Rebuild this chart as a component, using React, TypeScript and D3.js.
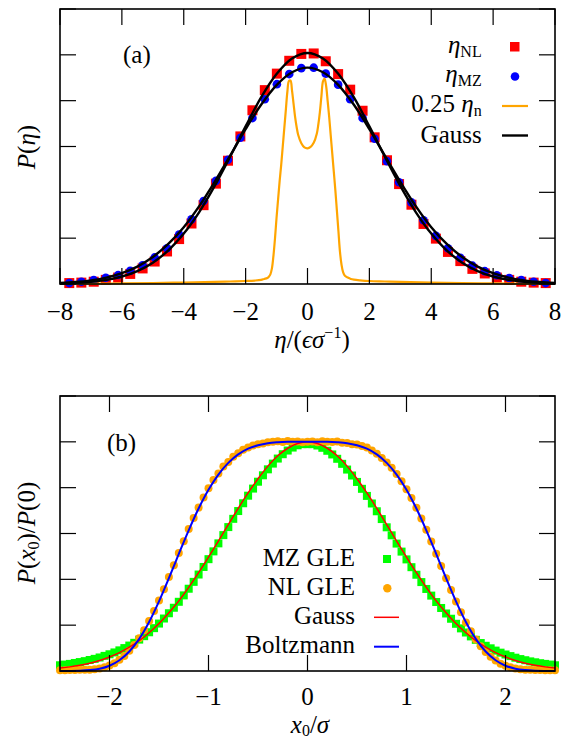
import React from "react";
import * as d3 from "d3";

// ---------------- Panel (a) data ----------------
const etaGrid = [-7.70, -7.31, -6.91, -6.52, -6.12, -5.73, -5.33, -4.94, -4.54, -4.15, -3.75, -3.36, -2.96, -2.57, -2.17, -1.78, -1.38, -0.99, -0.59, -0.20,
  0.20, 0.59, 0.99, 1.38, 1.78, 2.17, 2.57, 2.96, 3.36, 3.75, 4.15, 4.54, 4.94, 5.33, 5.73, 6.12, 6.52, 6.91, 7.31, 7.70];
const etaNL = [0.02, 0.03, 0.05, 0.09, 0.14, 0.22, 0.34, 0.49, 0.71, 0.98, 1.32, 1.72, 2.19, 2.69, 3.22, 3.79, 4.23, 4.59, 4.87, 5.02,
  5.03, 4.86, 4.58, 4.24, 3.78, 3.20, 2.70, 2.18, 1.73, 1.31, 0.99, 0.70, 0.50, 0.33, 0.23, 0.14, 0.09, 0.05, 0.03, 0.02];
const etaMZ = [0.02, 0.05, 0.085, 0.135, 0.195, 0.29, 0.41, 0.58, 0.78, 1.08, 1.41, 1.81, 2.25, 2.71, 3.19, 3.62, 4.03, 4.36, 4.58, 4.71,
  4.72, 4.59, 4.35, 4.03, 3.62, 3.17, 2.68, 2.22, 1.78, 1.39, 1.05, 0.78, 0.57, 0.40, 0.28, 0.19, 0.13, 0.085, 0.05, 0.02];

const gaussEta = [-8, -7.5, -7, -6.5, -6, -5.5, -5, -4.5, -4, -3.5, -3, -2.5, -2, -1.5, -1, -0.5, 0,
  0.5, 1, 1.5, 2, 2.5, 3, 3.5, 4, 4.5, 5, 5.5, 6, 6.5, 7, 7.5, 8];
const gaussNLFit = [0.011, 0.024, 0.047, 0.090, 0.163, 0.283, 0.466, 0.733, 1.10, 1.57, 2.14, 2.78, 3.44, 4.07, 4.58, 4.92, 5.04,
  4.92, 4.58, 4.07, 3.44, 2.78, 2.14, 1.57, 1.10, 0.733, 0.466, 0.283, 0.163, 0.090, 0.047, 0.024, 0.011];
const gaussMZFit = [0.023, 0.043, 0.080, 0.140, 0.235, 0.379, 0.588, 0.873, 1.24, 1.70, 2.23, 2.80, 3.38, 3.91, 4.34, 4.62, 4.72,
  4.62, 4.34, 3.91, 3.38, 2.80, 2.23, 1.70, 1.24, 0.873, 0.588, 0.379, 0.235, 0.140, 0.080, 0.043, 0.023];

const noiseEta = [-8, -7, -6, -5, -4, -3, -2.5, -2, -1.7, -1.5, -1.4, -1.3, -1.25, -1.2, -1.15, -1.1, -1.05, -1.0, -0.95, -0.9, -0.85, -0.8,
  -0.75, -0.7, -0.65, -0.6, -0.55, -0.5, -0.45, -0.4, -0.35, -0.3, -0.2, -0.1, 0,
  0.1, 0.2, 0.3, 0.35, 0.4, 0.45, 0.5, 0.55, 0.6, 0.65, 0.7, 0.75, 0.8, 0.85, 0.9, 0.95, 1.0, 1.05, 1.1, 1.15, 1.2, 1.25, 1.3,
  1.4, 1.5, 1.7, 2, 2.5, 3, 4, 5, 6, 7, 8];
const noiseQuarter = [0.003, 0.008, 0.012, 0.022, 0.032, 0.045, 0.055, 0.065, 0.075, 0.09, 0.11, 0.13, 0.16, 0.21, 0.34, 0.62, 1.0, 1.45, 1.85, 2.25, 2.6, 3.0,
  3.4, 3.8, 4.2, 4.43, 4.44, 4.22, 3.93, 3.64, 3.42, 3.25, 3.07, 2.98, 2.96,
  2.99, 3.08, 3.28, 3.48, 3.75, 4.1, 4.42, 4.48, 4.33, 4.0, 3.65, 3.25, 2.85, 2.45, 2.05, 1.6, 1.15, 0.7, 0.42, 0.26, 0.19, 0.16, 0.14,
  0.11, 0.095, 0.08, 0.065, 0.055, 0.045, 0.032, 0.022, 0.012, 0.008, 0.003];

const aXTicks = [-8, -6, -4, -2, 0, 2, 4, 6, 8];
const aYTicks = [0, 1, 2, 3, 4, 5, 6];

// ---------------- Panel (b) data ----------------
const x0Grid = [-2.5, -2.45, -2.4, -2.35, -2.3, -2.25, -2.2, -2.15, -2.1, -2.05,
  -2.0, -1.95, -1.9, -1.85, -1.8, -1.75, -1.7, -1.65, -1.6, -1.55,
  -1.5, -1.45, -1.4, -1.35, -1.3, -1.25, -1.2, -1.15, -1.1, -1.05,
  -1.0, -0.95, -0.9, -0.85, -0.8, -0.75, -0.7, -0.65, -0.6, -0.55,
  -0.5, -0.45, -0.4, -0.35, -0.3, -0.25, -0.2, -0.15, -0.1, -0.05, 0,
  0.05, 0.1, 0.15, 0.2, 0.25, 0.3, 0.35, 0.4, 0.45, 0.5,
  0.55, 0.6, 0.65, 0.7, 0.75, 0.8, 0.85, 0.9, 0.95, 1.0,
  1.05, 1.1, 1.15, 1.2, 1.25, 1.3, 1.35, 1.4, 1.45, 1.5,
  1.55, 1.6, 1.65, 1.7, 1.75, 1.8, 1.85, 1.9, 1.95, 2.0,
  2.05, 2.1, 2.15, 2.2, 2.25, 2.3, 2.35, 2.4, 2.45, 2.5];
const mzGle = [0.025, 0.028, 0.031, 0.035, 0.039, 0.043, 0.048, 0.053, 0.059, 0.066,
  0.073, 0.081, 0.090, 0.100, 0.111, 0.123, 0.137, 0.152, 0.169, 0.187,
  0.207, 0.229, 0.252, 0.276, 0.302, 0.330, 0.359, 0.389, 0.421, 0.454,
  0.488, 0.522, 0.557, 0.593, 0.628, 0.664, 0.698, 0.732, 0.765, 0.796,
  0.826, 0.854, 0.880, 0.905, 0.927, 0.946, 0.962, 0.975, 0.985, 0.99, 0.99,
  0.99, 0.984, 0.974, 0.961, 0.945, 0.926, 0.904, 0.879, 0.853, 0.825,
  0.795, 0.764, 0.731, 0.697, 0.663, 0.627, 0.592, 0.556, 0.521, 0.487,
  0.453, 0.420, 0.388, 0.358, 0.329, 0.301, 0.275, 0.251, 0.228, 0.206,
  0.186, 0.168, 0.151, 0.136, 0.122, 0.110, 0.099, 0.089, 0.080, 0.072,
  0.065, 0.058, 0.052, 0.047, 0.042, 0.038, 0.034, 0.031, 0.028, 0.025];
const nlGle = [0.003, 0.003, 0.004, 0.004, 0.005, 0.005, 0.006, 0.008, 0.011, 0.016,
  0.024, 0.034, 0.049, 0.066, 0.088, 0.113, 0.143, 0.178, 0.218, 0.262,
  0.308, 0.357, 0.410, 0.462, 0.515, 0.566, 0.620, 0.668, 0.713, 0.757,
  0.797, 0.833, 0.862, 0.892, 0.912, 0.935, 0.950, 0.965, 0.975, 0.984,
  0.990, 0.993, 0.998, 1.000, 1.003, 0.999, 1.004, 1.000, 1.002, 0.998, 1.000,
  1.002, 0.998, 1.003, 1.000, 0.999, 1.001, 0.996, 0.995, 0.990, 0.988,
  0.982, 0.975, 0.962, 0.948, 0.930, 0.910, 0.887, 0.860, 0.828, 0.793,
  0.755, 0.712, 0.665, 0.616, 0.565, 0.512, 0.458, 0.405, 0.353, 0.303,
  0.256, 0.212, 0.173, 0.138, 0.108, 0.083, 0.062, 0.046, 0.032, 0.023,
  0.016, 0.011, 0.008, 0.006, 0.005, 0.004, 0.004, 0.003, 0.003, 0.003];

const lineX0 = [-2.5, -2.4, -2.3, -2.2, -2.1, -2.0, -1.9, -1.8, -1.7, -1.6, -1.5, -1.4, -1.3, -1.2, -1.1, -1.0, -0.9, -0.8, -0.7, -0.6,
  -0.5, -0.4, -0.3, -0.2, -0.1, 0, 0.1, 0.2, 0.3, 0.4, 0.5, 0.6, 0.7, 0.8, 0.9, 1.0, 1.1, 1.2, 1.3, 1.4, 1.5,
  1.6, 1.7, 1.8, 1.9, 2.0, 2.1, 2.2, 2.3, 2.4, 2.5];
const gaussB = [0.013, 0.018, 0.025, 0.034, 0.046, 0.061, 0.080, 0.104, 0.132, 0.167, 0.207, 0.254, 0.306, 0.365, 0.429, 0.497, 0.567, 0.639, 0.710, 0.777,
  0.839, 0.894, 0.939, 0.972, 0.993, 1.0, 0.993, 0.972, 0.939, 0.894, 0.839, 0.777, 0.710, 0.639, 0.567, 0.497, 0.429, 0.365, 0.306, 0.254, 0.207,
  0.167, 0.132, 0.104, 0.080, 0.061, 0.046, 0.034, 0.025, 0.018, 0.013];
const boltzB = [0.0001, 0.0004, 0.0014, 0.0041, 0.010, 0.023, 0.047, 0.085, 0.140, 0.214, 0.304, 0.405, 0.511, 0.614, 0.709, 0.791, 0.857, 0.908, 0.945, 0.970,
  0.985, 0.994, 0.998, 1.0, 1.0, 1.0, 1.0, 1.0, 0.998, 0.994, 0.985, 0.970, 0.945, 0.908, 0.857, 0.791, 0.709, 0.614, 0.511, 0.405, 0.304,
  0.214, 0.140, 0.085, 0.047, 0.023, 0.010, 0.0041, 0.0014, 0.0004, 0.0001];

const bXTicks = [-2, -1, 0, 1, 2];
const bYTicks = [0, 0.2, 0.4, 0.6, 0.8, 1.0, 1.2];

const FONT = "'Liberation Serif', 'DejaVu Serif', serif";
const FS = 25;
const SUB = 16;
const SUBDY = 4;
const TICK = 16;

function fmt(t: number) {
  return t < 0 ? "\u2212" + Math.abs(t) : String(t);
}

function Frame({ xs, ys, xTicks, yTicks }: any) {
  const [xl, xr] = xs.range();
  const [yb, yt] = ys.range();
  return (
    <g stroke="#000" fill="none">
      {xTicks.map((t: number) => (
        <g key={"x" + t} strokeWidth={1.2}>
          <line x1={xs(t)} x2={xs(t)} y1={yb} y2={yb - TICK} />
          <line x1={xs(t)} x2={xs(t)} y1={yt} y2={yt + TICK} />
        </g>
      ))}
      {yTicks.map((t: number) => (
        <g key={"y" + t} strokeWidth={1.2}>
          <line x1={xl} x2={xl + TICK} y1={ys(t)} y2={ys(t)} />
          <line x1={xr} x2={xr - TICK} y1={ys(t)} y2={ys(t)} />
        </g>
      ))}
      <rect x={xl} y={yt} width={xr - xl} height={yb - yt} strokeWidth={1.6} />
    </g>
  );
}

export default function App() {
  const xa = d3.scaleLinear().domain([-8, 8]).range([60, 555]);
  const ya = d3.scaleLinear().domain([0, 6]).range([284, 9]);
  const xb = d3.scaleLinear().domain([-2.5, 2.5]).range([60, 555]);
  const yb = d3.scaleLinear().domain([0, 1.2]).range([671, 396]);

  const pathA = (xsArr: number[], ysArr: number[]) =>
    d3.line<number>().x((_, i) => xa(xsArr[i])).y((d) => ya(d)).curve(d3.curveCatmullRom)(ysArr) || "";
  const pathB = (xsArr: number[], ysArr: number[]) =>
    d3.line<number>().x((_, i) => xb(xsArr[i])).y((d) => yb(d)).curve(d3.curveCatmullRom)(ysArr) || "";

  const RED = "#ff0000";
  const BLUE = "#0000ff";
  const ORANGE = "#ffa500";
  const GREEN = "#00ff00";

  return (
    <svg width={569} height={741} style={{ position: "absolute", left: 0, top: 0, display: "block" }}
      fontFamily={FONT} fontSize={FS}>
      <rect width={569} height={741} fill="#fff" />

      {/* ---------- Panel (a) ---------- */}
      <g>
        {etaGrid.map((e, i) => (
          <rect key={"nl" + i} x={xa(e) - 5} y={ya(etaNL[i]) - 5} width={10} height={10} fill={RED} />
        ))}
        {etaGrid.map((e, i) => (
          <circle key={"mz" + i} cx={xa(e)} cy={ya(etaMZ[i])} r={4.3} fill={BLUE} />
        ))}
        <path d={pathA(noiseEta, noiseQuarter)} fill="none" stroke={ORANGE} strokeWidth={2.2} />
        <path d={pathA(gaussEta, gaussMZFit)} fill="none" stroke="#000" strokeWidth={2.4} />
        <path d={pathA(gaussEta, gaussNLFit)} fill="none" stroke="#000" strokeWidth={2.4} />
        <Frame xs={xa} ys={ya} xTicks={aXTicks} yTicks={aYTicks} />
        {aXTicks.map((t) => (
          <text key={"ax" + t} x={xa(t)} y={320} textAnchor="middle">{fmt(t)}</text>
        ))}
        <text x={312} y={348} textAnchor="middle">
          <tspan fontStyle="italic">η</tspan>/(<tspan fontStyle="italic">ϵσ</tspan>
          <tspan fontSize={SUB} dy={-10}>−1</tspan><tspan dy={10}>)</tspan>
        </text>
        <text transform="translate(35,147) rotate(-90)" textAnchor="middle">
          <tspan fontStyle="italic">P</tspan>(<tspan fontStyle="italic">η</tspan>)
        </text>
        <text x={123} y={63}>(a)</text>

        {/* legend */}
        <text x={481.7} y={52.5} textAnchor="end">
          <tspan fontStyle="italic">η</tspan><tspan fontSize={SUB} dy={SUBDY}>NL</tspan>
        </text>
        <rect x={510} y={42} width={9.5} height={9.5} fill={RED} />
        <text x={481.7} y={82} textAnchor="end">
          <tspan fontStyle="italic">η</tspan><tspan fontSize={SUB} dy={SUBDY}>MZ</tspan>
        </text>
        <circle cx={515} cy={76.5} r={4.3} fill={BLUE} />
        <text x={481.7} y={112} textAnchor="end">
          0.25 <tspan fontStyle="italic">η</tspan><tspan fontSize={SUB} dy={SUBDY}>n</tspan>
        </text>
        <line x1={502} x2={528} y1={106} y2={106} stroke={ORANGE} strokeWidth={2.2} />
        <text x={481.7} y={142.5} textAnchor="end">Gauss</text>
        <line x1={502} x2={528} y1={135.5} y2={135.5} stroke="#000" strokeWidth={2.4} />
      </g>

      {/* ---------- Panel (b) ---------- */}
      <g>
        {x0Grid.map((x, i) => (
          <rect key={"g" + i} x={xb(x) - 4} y={yb(mzGle[i]) - 4} width={8} height={8} fill={GREEN} />
        ))}
        {x0Grid.map((x, i) => (
          <circle key={"o" + i} cx={xb(x)} cy={yb(nlGle[i])} r={4} fill={ORANGE} />
        ))}
        <path d={pathB(lineX0, gaussB)} fill="none" stroke={RED} strokeWidth={1.5} />
        <path d={pathB(lineX0, boltzB)} fill="none" stroke={BLUE} strokeWidth={2} />
        <Frame xs={xb} ys={yb} xTicks={bXTicks} yTicks={bYTicks} />
        {bXTicks.map((t) => (
          <text key={"bx" + t} x={xb(t)} y={705} textAnchor="middle">{fmt(t)}</text>
        ))}
        <text x={310} y={733} textAnchor="middle">
          <tspan fontStyle="italic">x</tspan><tspan fontSize={SUB} dy={3}>0</tspan><tspan dy={-3}>/</tspan>
          <tspan fontStyle="italic">σ</tspan>
        </text>
        <text transform="translate(35,533) rotate(-90)" textAnchor="middle">
          <tspan fontStyle="italic">P</tspan>(<tspan fontStyle="italic">x</tspan><tspan fontSize={SUB} dy={SUBDY}>0</tspan>
          <tspan dy={-SUBDY}>)/</tspan><tspan fontStyle="italic">P</tspan>(0)
        </text>
        <text x={107} y={451}>(b)</text>

        {/* legend */}
        <text x={355} y={566} textAnchor="end">MZ GLE</text>
        <rect x={383} y={555} width={8} height={8} fill={GREEN} />
        <text x={355} y={595} textAnchor="end">NL GLE</text>
        <circle cx={387.3} cy={588.3} r={4.2} fill={ORANGE} />
        <text x={355} y={624} textAnchor="end">Gauss</text>
        <line x1={374} x2={399} y1={617.3} y2={617.3} stroke={RED} strokeWidth={1.5} />
        <text x={355} y={653.3} textAnchor="end">Boltzmann</text>
        <line x1={374} x2={399} y1={646.7} y2={646.7} stroke={BLUE} strokeWidth={2} />
      </g>
    </svg>
  );
}
